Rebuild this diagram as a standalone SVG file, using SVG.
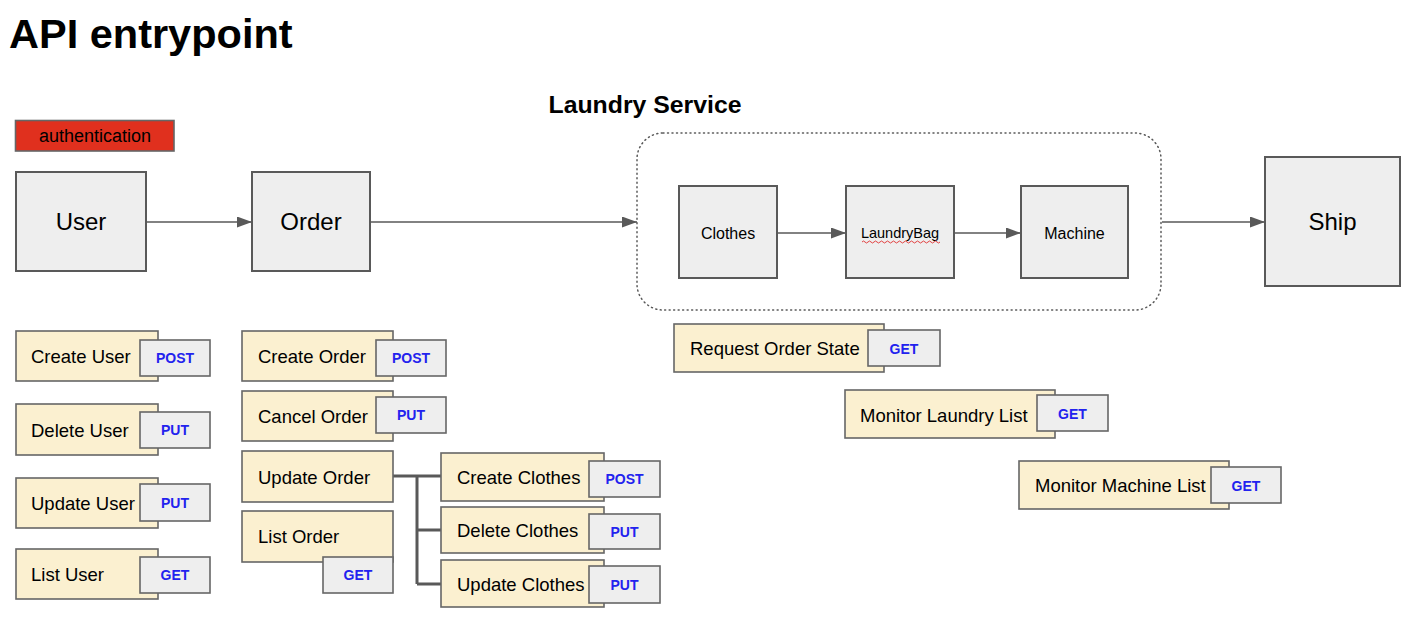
<svg xmlns="http://www.w3.org/2000/svg" width="1428" height="623" viewBox="0 0 1428 623">
<style>
text{font-family:"Liberation Sans",Arial,sans-serif;fill:#000}
.title{font-size:41.5px;font-weight:bold}
.sub{font-size:24.8px;font-weight:bold}
.big{fill:#eeeeee;stroke:#595959;stroke-width:2}
.big-t{font-size:24px;text-anchor:middle}
.mid-t{font-size:16px;text-anchor:middle}
.item{fill:#fbf0d0;stroke:#666;stroke-width:1.6}
.meth{fill:#eeeeee;stroke:#666;stroke-width:1.6}
.it{font-size:18.5px}
.mt{font-size:14px;font-weight:bold;fill:#2222ee;text-anchor:middle}
.conn{stroke:#595959;stroke-width:1.6;fill:none}
.brk{stroke:#595959;stroke-width:3;fill:none}
</style>
<defs>
<marker id="arr" viewBox="0 0 15 11" refX="15" refY="5.5" markerWidth="15" markerHeight="11" markerUnits="userSpaceOnUse" orient="auto">
<path d="M0,0 L15,5.5 L0,11 z" fill="#595959"/>
</marker>
</defs>
<rect width="1428" height="623" fill="#ffffff"/>
<text class="title" x="9" y="48">API entrypoint</text>
<text class="sub" x="645" y="113" text-anchor="middle">Laundry Service</text>

<g id="authentication">
<rect x="15.5" y="120.5" width="158.5" height="30.5" fill="#e0301e" stroke="#666" stroke-width="1.6"/>
<text x="95" y="142" font-size="18" text-anchor="middle">authentication</text>
</g>

<g id="laundry-service">
<rect x="637" y="133" width="524" height="177" rx="26" ry="26" fill="none" stroke="#595959" stroke-width="1.5" stroke-dasharray="1,3.5" stroke-linecap="round"/>
</g>

<g id="connectors">
<line class="conn" x1="147" y1="222" x2="252" y2="222" marker-end="url(#arr)"/>
<line class="conn" x1="371" y1="222" x2="637" y2="222" marker-end="url(#arr)"/>
<line class="conn" x1="778" y1="233" x2="846" y2="233" marker-end="url(#arr)"/>
<line class="conn" x1="955" y1="233" x2="1021" y2="233" marker-end="url(#arr)"/>
<line class="conn" x1="1162" y1="222" x2="1265" y2="222" marker-end="url(#arr)"/>
<path class="brk" d="M393,476 H441 M417,476 V584 M417,530 H441 M417,584 H441"/>
</g>

<g id="user"><rect class="big" x="16" y="172" width="130" height="99"/><text class="big-t" x="81" y="230">User</text></g>
<g id="order"><rect class="big" x="252" y="172" width="118" height="99"/><text class="big-t" x="311" y="230">Order</text></g>
<g id="clothes"><rect class="big" x="679" y="186" width="98" height="92"/><text class="mid-t" x="728" y="239">Clothes</text></g>
<g id="laundrybag"><rect class="big" x="846" y="186" width="108" height="92"/><text x="900" y="238" font-size="14.5" text-anchor="middle">LaundryBag</text>
<path d="M862,242 q1.5,-2 3,0 t3,0 t3,0 t3,0 t3,0 t3,0 t3,0 t3,0 t3,0 t3,0 t3,0 t3,0 t3,0 t3,0 t3,0 t3,0 t3,0 t3,0 t3,0 t3,0 t3,0 t3,0 t3,0 t3,0 t3,0 t3,0" fill="none" stroke="#e03030" stroke-width="0.9"/></g>
<g id="machine"><rect class="big" x="1021" y="186" width="107" height="92"/><text class="mid-t" x="1074.5" y="239">Machine</text></g>
<g id="ship"><rect class="big" x="1265" y="157" width="135" height="129"/><text class="big-t" x="1332.5" y="230">Ship</text></g>

<g id="create-user"><rect class="item" x="16" y="331" width="142" height="50"/><rect class="meth" x="140" y="340" width="70" height="36"/><text class="it" x="31" y="363">Create User</text><text class="mt" x="175" y="363">POST</text></g>
<g id="delete-user"><rect class="item" x="16" y="404" width="142" height="51"/><rect class="meth" x="140" y="412" width="70" height="36"/><text class="it" x="31" y="437">Delete User</text><text class="mt" x="175" y="435">PUT</text></g>
<g id="update-user"><rect class="item" x="16" y="478" width="142" height="50"/><rect class="meth" x="140" y="484" width="70" height="37"/><text class="it" x="31" y="510">Update User</text><text class="mt" x="175" y="508">PUT</text></g>
<g id="list-user"><rect class="item" x="16" y="549" width="142" height="50"/><rect class="meth" x="140" y="557" width="70" height="36"/><text class="it" x="31" y="581">List User</text><text class="mt" x="175" y="580">GET</text></g>

<g id="create-order"><rect class="item" x="242" y="331" width="151" height="50"/><rect class="meth" x="376" y="340" width="70" height="36"/><text class="it" x="258" y="363">Create Order</text><text class="mt" x="411" y="363">POST</text></g>
<g id="cancel-order"><rect class="item" x="242" y="391" width="151" height="50"/><rect class="meth" x="376" y="397" width="70" height="36"/><text class="it" x="258" y="423">Cancel Order</text><text class="mt" x="411" y="420">PUT</text></g>
<g id="update-order"><rect class="item" x="242" y="451" width="151" height="51"/><text class="it" x="258" y="484">Update Order</text></g>
<g id="list-order"><rect class="item" x="242" y="511" width="151" height="51"/><rect class="meth" x="323" y="557" width="70" height="36"/><text class="it" x="258" y="543">List Order</text><text class="mt" x="358" y="580">GET</text></g>

<g id="create-clothes"><rect class="item" x="441" y="453" width="163" height="48"/><rect class="meth" x="589" y="461" width="71" height="36"/><text class="it" x="457" y="484">Create Clothes</text><text class="mt" x="624.5" y="484">POST</text></g>
<g id="delete-clothes"><rect class="item" x="441" y="507" width="163" height="46"/><rect class="meth" x="589" y="514" width="71" height="35"/><text class="it" x="457" y="537">Delete Clothes</text><text class="mt" x="624.5" y="537">PUT</text></g>
<g id="update-clothes"><rect class="item" x="441" y="560" width="163" height="47"/><rect class="meth" x="589" y="566" width="71" height="37"/><text class="it" x="457" y="591">Update Clothes</text><text class="mt" x="624.5" y="590">PUT</text></g>

<g id="request-order-state"><rect class="item" x="674" y="324" width="210" height="48"/><rect class="meth" x="868" y="330" width="72" height="36"/><text class="it" x="690" y="355">Request Order State</text><text class="mt" x="904" y="354">GET</text></g>
<g id="monitor-laundry-list"><rect class="item" x="845" y="390" width="210" height="48"/><rect class="meth" x="1037" y="395" width="71" height="36"/><text class="it" x="860" y="422">Monitor Laundry List</text><text class="mt" x="1072.5" y="419">GET</text></g>
<g id="monitor-machine-list"><rect class="item" x="1019" y="461" width="210" height="48"/><rect class="meth" x="1211" y="467" width="70" height="36"/><text class="it" x="1035" y="492">Monitor Machine List</text><text class="mt" x="1246" y="491">GET</text></g>
</svg>
